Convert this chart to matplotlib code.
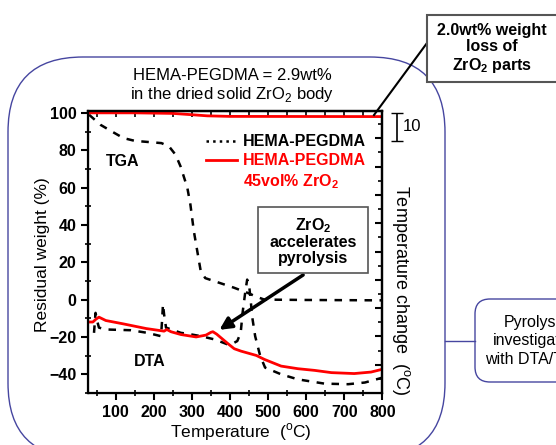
import matplotlib
matplotlib.use('Agg')
import matplotlib.pyplot as plt
from matplotlib.lines import Line2D
from matplotlib.patches import FancyBboxPatch, Rectangle
from matplotlib.ticker import MultipleLocator

plt.rcParams['font.family'] = 'Liberation Sans'
plt.rcParams['mathtext.fontset'] = 'custom'
plt.rcParams['mathtext.rm'] = 'Liberation Sans'
plt.rcParams['mathtext.bf'] = 'Liberation Sans:bold'

# TGA, residual weight (%)
temp_tga_black = [30, 60, 90, 120, 150, 185, 220, 240, 257, 270, 280, 288, 296,
                  305, 314, 323, 335, 360, 410, 445, 470, 490, 600, 700, 800]
tga_black = [99, 93.6, 90, 86.5, 85, 84.4, 83.8, 82, 77.6, 71.4, 65, 59.8, 50.9,
             36.7, 26, 15.4, 11.5, 9.8, 6.4, 3.7, 1.5, 0, -0.2, -0.3, -0.4]
temp_tga_red = [30, 150, 250, 300, 340, 400, 800]
tga_red = [100, 100, 99.7, 99.0, 98.4, 98.1, 98.0]

# DTA, drawn on the left scale
temp_dta_black = [43, 47, 52, 56, 74, 140, 183, 219, 222, 224, 227, 232, 271, 289,
                  324, 359, 394, 403, 419, 428, 433, 440, 445, 450, 455, 458, 466,
                  479, 492, 534, 578, 648, 710, 754, 800]
dta_black = [-17.8, -7.1, -12, -15, -16, -16.4, -17.8, -19.6, -10, -2.5, -8, -15,
             -17.8, -18.3, -19.6, -21.3, -24, -24, -22.2, -17.8, -7, 4, 10.7, 8,
             -2, -9, -19.6, -30, -36.4, -40, -42.7, -45, -45.3, -44.4, -41.8]
temp_dta_red = [30, 40, 48, 56, 74, 120, 180, 227, 234, 245, 271, 311, 337, 350,
                355, 365, 394, 411, 429, 469, 490, 534, 578, 622, 666, 726, 770, 800]
dta_red = [-12, -12, -10.5, -9.4, -11.2, -13, -15.5, -16.9, -16, -17.2, -18.7, -20,
           -19, -17.5, -17.2, -18.5, -23.5, -26.3, -27.6, -29.9, -32, -35.6, -37,
           -37.9, -39.1, -39.6, -38.8, -37.3]

H = 445


def px(x, y):
    # pixel position (top-left origin) -> inches for dpi_scale_trans
    return x / 100.0, (H - y) / 100.0


fig = plt.figure(figsize=(5.56, 4.45), dpi=100)
it = fig.dpi_scale_trans

# background frames
big = FancyBboxPatch(px(8, 458), 4.37, 4.01, boxstyle='round,pad=0,rounding_size=0.75',
                     transform=it, fc='none', ec='#4646a0', lw=1.0)
fig.patches.append(big)
small = FancyBboxPatch(px(475, 382), 1.5, 0.83, boxstyle='round,pad=0,rounding_size=0.15',
                       transform=it, fc='white', ec='#4646a0', lw=1.0)
fig.patches.append(small)
fig.lines.append(Line2D([4.45, 4.75], [px(0, 341)[1]] * 2, transform=it, color='#4646a0', lw=1.0))
fig.text(*px(536, 341), 'Pyrolysis\ninvestigated\nwith DTA/TGA', transform=it, ha='center',
         va='center', fontsize=11.5, linespacing=1.3)

ax = fig.add_axes([0.1588, 0.1169, 0.529, 0.6337])
ax.plot(temp_tga_black, tga_black, color='k', lw=1.8, dashes=(3, 3))
ax.plot(temp_dta_black, dta_black, color='k', lw=1.8, dashes=(3, 3))
ax.plot(temp_tga_red, tga_red, color='r', lw=2)
ax.plot(temp_dta_red, dta_red, color='r', lw=2)

ax.set_xlim(28, 800)
ax.set_ylim(-50, 101)
ax.xaxis.set_major_locator(MultipleLocator(100))
ax.xaxis.set_minor_locator(MultipleLocator(50))
ax.yaxis.set_major_locator(MultipleLocator(20))
ax.yaxis.set_minor_locator(MultipleLocator(10))
ax.tick_params(which='major', direction='out', length=5, width=1.5, labelsize=11.5)
ax.tick_params(which='minor', direction='inout', length=4, width=1.2)
for lab in ax.get_xticklabels() + ax.get_yticklabels():
    lab.set_fontweight('bold')
for s in ax.spines.values():
    s.set_linewidth(1.6)

top = ax.secondary_xaxis('top')
top.xaxis.set_major_locator(MultipleLocator(50))
top.tick_params(direction='in', length=4, width=1.2, labeltop=False)
top.spines['top'].set_linewidth(1.6)

ax2 = ax.twinx()
ax2.set_ylim(-89.95, 9.65)
ax2.yaxis.set_major_locator(MultipleLocator(10))
ax2.yaxis.set_minor_locator(MultipleLocator(5))
ax2.tick_params(which='major', direction='in', length=5, width=1.5, labelright=False)
ax2.tick_params(which='minor', direction='in', length=3, width=1.2)
ax2.spines['right'].set_linewidth(1.6)
# 10 degree scale bar
ax2.errorbar([1.049], [4], yerr=5, color='k', capsize=4, lw=1.2,
             transform=ax2.get_yaxis_transform(), clip_on=False)
ax2.text(1.07, 4, '10', transform=ax2.get_yaxis_transform(), fontsize=12, va='center')

ax.set_xlabel('Temperature  ($^{\\mathrm{o}}$C)', fontsize=12.5)
ax.xaxis.set_label_coords(0.52, -0.10)
ax.set_ylabel('Residual weight (%)', fontsize=12.5)
ax.yaxis.set_label_coords(-0.13, 0.49)
fig.text(*px(401, 290), 'Temperature change  ($^{\\mathrm{o}}$C)', transform=it,
         rotation=-90, ha='center', va='center', fontsize=13)

ax.text(0.49, 1.025, 'HEMA-PEGDMA = 2.9wt%\nin the dried solid ZrO$_2$ body',
        transform=ax.transAxes, ha='center', va='bottom', fontsize=12, linespacing=1.15)
ax.text(75, 74, 'TGA', fontsize=11.5, fontweight='bold', ha='left', va='center')
ax.text(148, -33, 'DTA', fontsize=11.5, fontweight='bold', ha='left', va='center')

handles = [Line2D([], [], color='k', ls=':', lw=1.8),
           Line2D([], [], color='r', lw=2),
           Line2D([], [], color='none')]
labels = ['HEMA-PEGDMA', 'HEMA-PEGDMA', '45vol% ZrO$_\\mathbf{2}$']
ax.legend(handles, labels, loc='upper left', bbox_to_anchor=(0.38, 0.94), frameon=False,
          labelcolor=['k', 'r', 'r'], prop={'weight': 'bold', 'size': 11.5},
          handlelength=1.9, handletextpad=0.4, labelspacing=0.25, borderaxespad=0)

# ZrO2 accelerates pyrolysis
ax.annotate('', xy=(366, -17), xytext=(598, 14),
            arrowprops=dict(arrowstyle='-|>', lw=2.5, color='k', mutation_scale=18))
fig.patches.append(Rectangle(px(258, 273), 1.10, 0.66, transform=it, fc='white',
                             ec='#555555', lw=1.2, zorder=3))
fig.text(*px(313, 241), 'ZrO$_\\mathbf{2}$\naccelerates\npyrolysis', transform=it,
         ha='center', va='center', fontsize=11.5, fontweight='bold', linespacing=1.05, zorder=4)

# 2.0wt% box
fig.lines.append(Line2D([4.27, 3.74], [px(0, 43)[1], px(0, 115)[1]], transform=it,
                        color='k', lw=1.5))
fig.patches.append(Rectangle(px(427, 82), 1.40, 0.67, transform=it, fc='white',
                             ec='#555555', lw=1.5, zorder=3))
fig.text(*px(492, 49), '2.0wt% weight\nloss of\nZrO$_\\mathbf{2}$ parts', transform=it,
         ha='center', va='center', fontsize=11.5, fontweight='bold', linespacing=1.15, zorder=4)

fig.savefig('out.png', dpi=100)
